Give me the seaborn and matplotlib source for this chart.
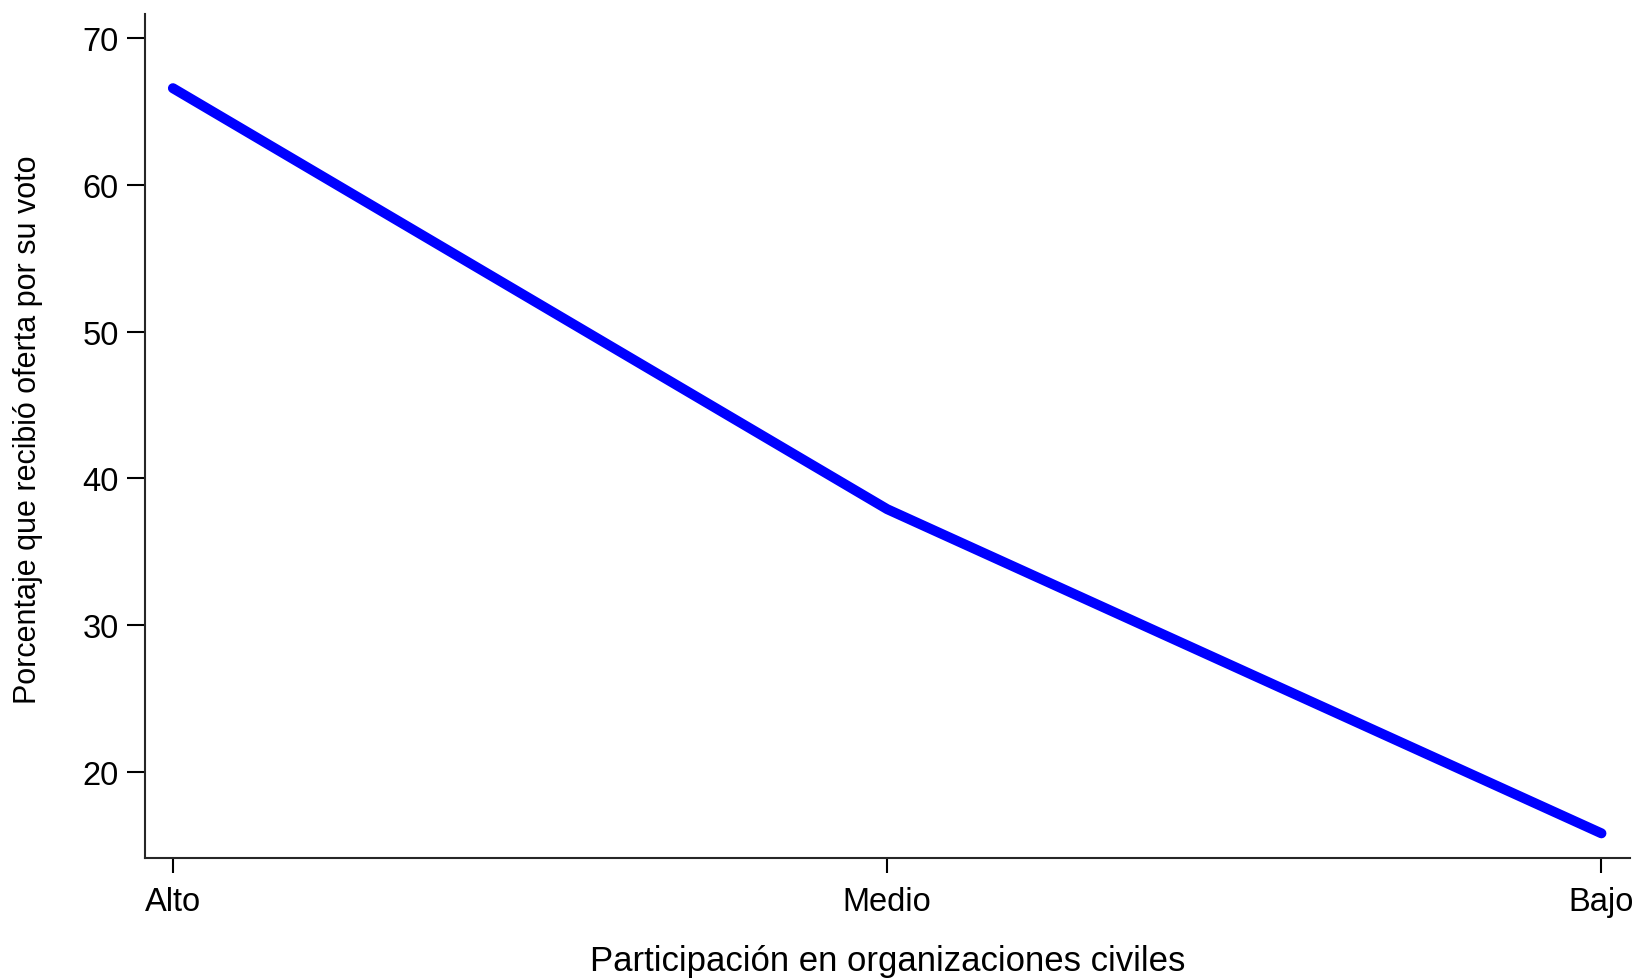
import pandas as pd
import numpy as np
import matplotlib
matplotlib.use('Agg')
import matplotlib.pyplot as plt
import seaborn as sns

# datos
niveles = ['Alto', 'Medio', 'Bajo']
porcentaje = [66.6, 37.9, 15.8]
y_ticks = [20, 30, 40, 50, 60, 70]

sns.set_style('ticks')
plt.rcParams['font.family'] = ['Liberation Sans', 'DejaVu Sans']
plt.rcParams['text.color'] = 'black'
plt.rcParams['axes.labelcolor'] = 'black'

df = pd.DataFrame({'nivel': np.arange(len(niveles)), 'pct': porcentaje})

fig = plt.figure(figsize=(16.41, 9.79), dpi=100)
ax = fig.add_axes([0.0884, 0.1226, 0.9049, 0.8621])

sns.lineplot(data=df, x='nivel', y='pct', ax=ax, color='#0000ff',
             linewidth=7.2, solid_capstyle='round', solid_joinstyle='round')

ax.set_xlim(-0.039, 2.04)
ax.set_ylim(14.12, 71.66)
ax.set_xticks(range(len(niveles)))
ax.set_xticklabels(niveles)
ax.set_yticks(y_ticks)

for s in ['top', 'right']:
    ax.spines[s].set_visible(False)
for s in ['left', 'bottom']:
    ax.spines[s].set_linewidth(1.5)
ax.tick_params(axis='both', labelsize=23.5, width=1.5, colors='black')
ax.tick_params(axis='y', length=13, pad=6)
ax.tick_params(axis='x', length=11, pad=9)

ax.set_xlabel('Participación en organizaciones civiles', fontsize=25)
ax.set_ylabel('Porcentaje que recibió oferta por su voto', fontsize=22)
ax.xaxis.label.set_verticalalignment('center')
ax.yaxis.label.set_verticalalignment('center')
# posiciones de las etiquetas en coordenadas del eje
ax.xaxis.set_label_coords(0.5, -0.121)
ax.yaxis.set_label_coords(-0.079, 0.509)

plt.savefig('out.png', dpi=100)
plt.close()
